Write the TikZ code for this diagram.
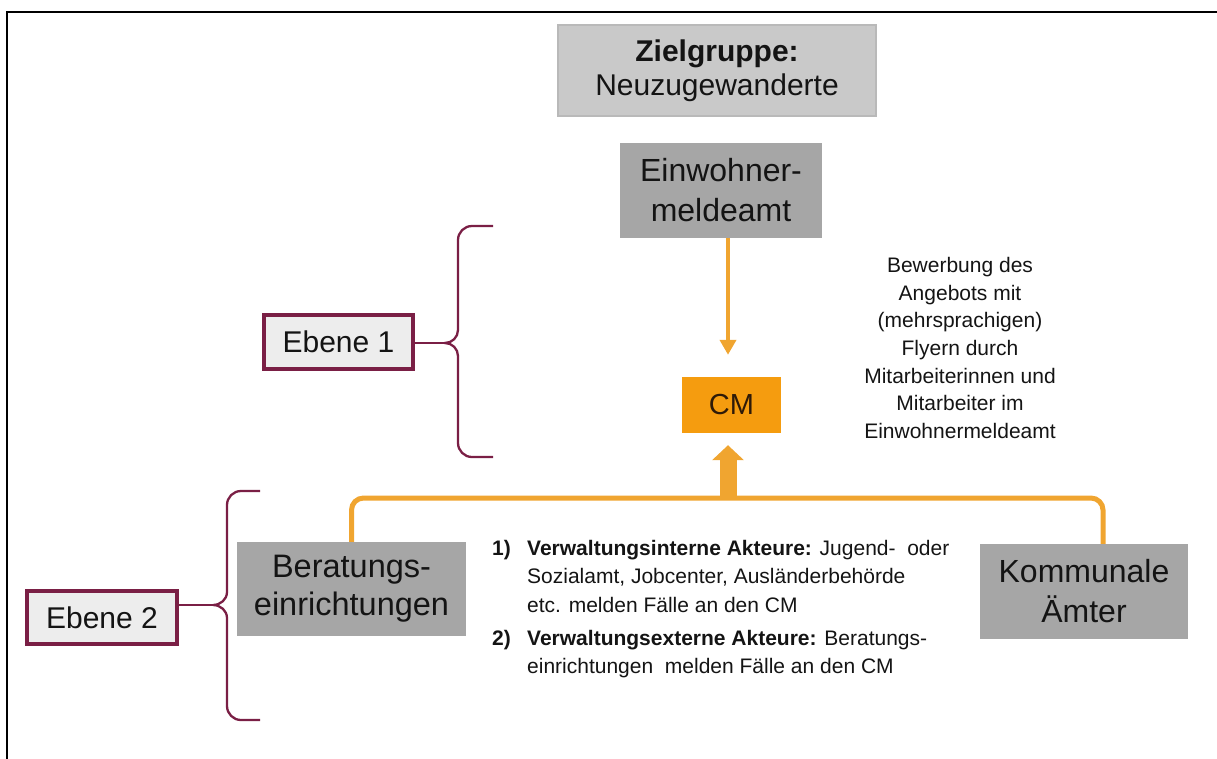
\documentclass[tikz,border=0pt]{standalone}
\usepackage{fontspec}
\setmainfont{Liberation Sans}
\usetikzlibrary{arrows.meta}
\definecolor{zielfill}{HTML}{C9C9C9}
\definecolor{zielborder}{HTML}{B9B9B9}
\definecolor{boxgray}{HTML}{A6A6A6}
\definecolor{cmorange}{HTML}{F59C0F}
\definecolor{orangeline}{HTML}{F0A530}
\definecolor{maroon}{HTML}{7A1F45}
\definecolor{ebenefill}{HTML}{EDEDED}
\definecolor{txt}{HTML}{141414}
\definecolor{cmtxt}{HTML}{2E1A08}
\begin{document}
\begin{tikzpicture}[x=1pt,y=-1pt,
  box/.style={rectangle, inner sep=0pt, align=center, text=txt},
  lightbox/.style={box, fill=zielfill, draw=zielborder, line width=2.5pt},
  graybox/.style={box, fill=boxgray},
  cmbox/.style={box, fill=cmorange, text=cmtxt},
  ebenebox/.style={box, fill=ebenefill, draw=maroon, line width=3.2pt},
  brace/.style={draw=maroon, line width=2.3pt},
  orangeconn/.style={draw=orangeline, line width=5pt, rounded corners=12pt},
  thinarrow/.style={draw=orangeline, line width=4.5pt, -{Triangle[width=16pt,length=15pt]}, shorten >=22pt},
  bigarrow/.style={draw=orangeline, line width=17pt, -{Triangle[width=31pt,length=15pt]}, shorten >=12pt},
  plaintext/.style={inner sep=0pt, text=txt}
]
\useasboundingbox (0,0) rectangle (1217,758);
% frame
\draw[line width=2.5pt, black] (7,760) -- (7,12) -- (1220,12);

% nodes
\node[lightbox, minimum width=318pt, minimum height=91pt, font={\fontsize{30}{34}\selectfont}] (ziel) at (717,70.5)
  {\textbf{Zielgruppe:}\\ Neuzugewanderte};
\node[graybox, minimum width=202pt, minimum height=95pt, font={\fontsize{32}{40}\selectfont}] (einw) at (721,190.5)
  {Einwohner-\\ meldeamt};
\node[cmbox, minimum width=99pt, minimum height=56pt, font={\fontsize{29}{34}\selectfont}] (cm) at (731.5,405)
  {CM};
\node[graybox, minimum width=229pt, minimum height=94pt, font={\fontsize{32.5}{38}\selectfont}] (berat) at (351.5,589)
  {Beratungs-\\ einrichtungen};
\node[graybox, minimum width=208pt, minimum height=95pt, font={\fontsize{32}{40}\selectfont}] (komm) at (1084,591.5)
  {Kommunale\\ Ämter};
\node[ebenebox, minimum width=149pt, minimum height=54pt, font={\fontsize{30}{34}\selectfont}] (eb1) at (338.5,342)
  {Ebene 1};
\node[ebenebox, minimum width=150pt, minimum height=53pt, font={\fontsize{30}{34}\selectfont}] (eb2) at (102,617.5)
  {Ebene 2};

% side text
\node[plaintext, anchor=north, align=center, font={\fontsize{21}{27.7}\selectfont}] (werb) at (960,257)
  {Bewerbung des\\ Angebots mit\\ (mehrsprachigen)\\ Flyern durch\\ Mitarbeiterinnen und\\ Mitarbeiter im\\ Einwohnermeldeamt};

% list
\node[plaintext, anchor=north west, align=left, font={\fontsize{21}{28.5}\selectfont}] (list) at (492,540)
  {\makebox[35pt][l]{\textbf{1)}}\textbf{Verwaltungsinterne Akteure:} Jugend-\ \ oder\\
   \hspace*{35pt}Sozialamt, Jobcenter, Ausländerbehörde\\
   \hspace*{35pt}etc. melden Fälle an den CM\\[4.5pt]
   \makebox[35pt][l]{\textbf{2)}}\textbf{Verwaltungsexterne Akteure:} Beratungs-\\
   \hspace*{35pt}einrichtungen\ \ melden Fälle an den CM};

% braces
\coordinate (cusp1) at (445,343);
\draw[brace] (493,226) -- (472,226) to[out=180,in=90] (458,240) -- (458,330)
  to[out=-90,in=0] (cusp1) to[out=0,in=90] (458,356) -- (458,443)
  to[out=-90,in=180] (472,457) -- (493,457);
\draw[brace] (eb1.east |- cusp1) -- (cusp1);

\coordinate (cusp2) at (213,605);
\draw[brace] (260,491) -- (241,491) to[out=180,in=90] (227,505) -- (227,592)
  to[out=-90,in=0] (cusp2) to[out=0,in=90] (227,618) -- (227,706)
  to[out=-90,in=180] (241,720) -- (260,720);
\draw[brace] (eb2.east |- cusp2) -- (cusp2);

% connectors
\coordinate (bar) at (728,498);
\draw[orangeconn] (berat.north) |- (bar) -| ([xshift=19pt]komm.north);
\draw[bigarrow] (bar) -- (bar |- cm.south);
\draw[thinarrow] (einw.south -| bar) -- (cm.north -| bar);
\end{tikzpicture}
\end{document}
